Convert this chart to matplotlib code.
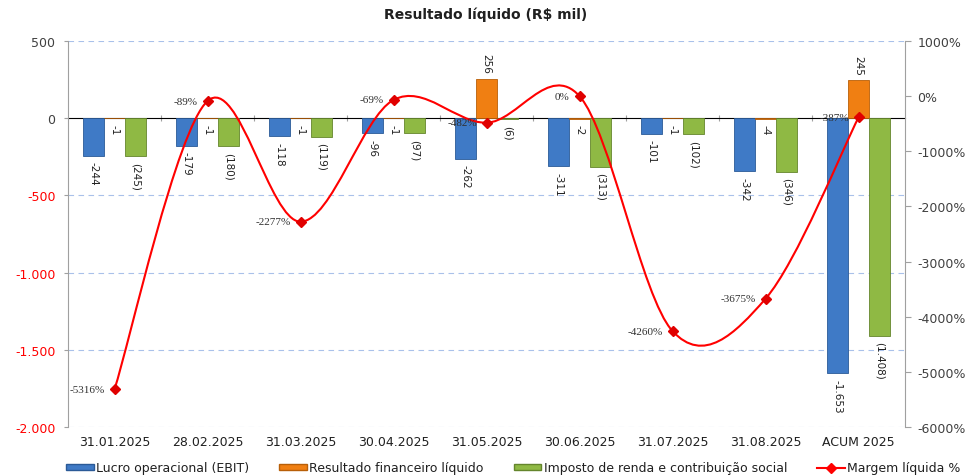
import numpy as np
import matplotlib
matplotlib.use("Agg")
import matplotlib.pyplot as plt
from matplotlib.path import Path
from matplotlib.patches import PathPatch, Patch
from matplotlib.lines import Line2D

# data (R$ mil)
categories = ["31.01.2025", "28.02.2025", "31.03.2025", "30.04.2025", "31.05.2025",
              "30.06.2025", "31.07.2025", "31.08.2025", "ACUM 2025"]
ebit = [-244, -179, -118, -96, -262, -311, -101, -342, -1653]
financeiro = [-1, -1, -1, -1, 256, -2, -1, -4, 245]
imposto = [-245, -180, -119, -97, -6, -313, -102, -346, -1408]
margem = [-5316, -89, -2277, -69, -482, 0, -4260, -3675, -387]

left_ticks = [500, 0, -500, -1000, -1500, -2000]
left_labels = ["500", "0", "-500", "-1.000", "-1.500", "-2.000"]
right_ticks = [1000, 0, -1000, -2000, -3000, -4000, -5000, -6000]
right_labels = ["1000%", "0%", "-1000%", "-2000%", "-3000%", "-4000%", "-5000%", "-6000%"]

YMIN, YMAX = -2000, 500
Y2MIN, Y2MAX = -6000, 1000

BLUE, BLUE_E = "#3F7AC6", "#2B5A97"
ORANGE, ORANGE_E = "#F07F12", "#B85F08"
GREEN, GREEN_E = "#8FB944", "#64852C"
RED = "#FF0000"
GRAY = "#404040"


def smooth_path(xs, ys):
    """Excel-like smoothed line: Catmull-Rom segments as cubic Beziers."""
    pts = np.column_stack([xs, ys]).astype(float)
    n = len(pts)
    verts = [pts[0]]
    codes = [Path.MOVETO]
    for i in range(n - 1):
        p0 = pts[i - 1] if i > 0 else pts[i]
        p1, p2 = pts[i], pts[i + 1]
        p3 = pts[i + 2] if i + 2 < n else pts[i + 1]
        c1 = p1 + (p2 - p0) / 6.0
        c2 = p2 - (p3 - p1) / 6.0
        verts += [c1, c2, p2]
        codes += [Path.CURVE4] * 3
    return Path(verts, codes)


def label_bars(ax, bars, texts):
    for b, t in zip(bars, texts):
        h = b.get_height()
        x = b.get_x() + b.get_width() / 2
        off = 4 if h >= 0 else -4
        ax.annotate(t, (x, h), xytext=(0, off), textcoords="offset points",
                    ha="center", va="bottom" if h >= 0 else "top", rotation=-90,
                    fontsize=7.5, color="#202020",
                    family=["Liberation Sans Narrow", "DejaVu Sans"])


fig = plt.figure(figsize=(9.65, 4.77), dpi=100)
ax = fig.add_axes([68 / 965, 1 - 428 / 477, (905 - 68) / 965, (428 - 42) / 477])

x = np.arange(len(categories))
w = 0.225
b1 = ax.bar(x - w, ebit, w, color=BLUE, edgecolor=BLUE_E, linewidth=0.6, zorder=3)
b2 = ax.bar(x, financeiro, w, color=ORANGE, edgecolor=ORANGE_E, linewidth=0.6, zorder=3)
b3 = ax.bar(x + w, imposto, w, color=GREEN, edgecolor=GREEN_E, linewidth=0.6, zorder=3)

label_bars(ax, b1, [f"{v:,}".replace(",", ".") for v in ebit])
label_bars(ax, b2, [f"{v:,}".replace(",", ".") for v in financeiro])
label_bars(ax, b3, [f"({abs(v):,})".replace(",", ".") for v in imposto])

ax.set_xlim(-0.5, len(categories) - 0.5)
ax.set_ylim(YMIN, YMAX)
ax.set_yticks(left_ticks, left_labels)
for lab, v in zip(ax.get_yticklabels(), left_ticks):
    lab.set_color(RED if v < 0 else GRAY)
ax.tick_params(axis="y", length=3, color="#A0A0A0", labelsize=9, pad=6)
ax.set_xticks(x, categories)
ax.tick_params(axis="x", length=0, labelsize=9, labelcolor="#202020", pad=6)

for v in left_ticks:
    if v != 0:
        ax.axhline(v, color="#A9C1EA", linestyle=(0, (5, 4)), linewidth=0.8, zorder=1)
for s in ["top", "bottom", "right"]:
    ax.spines[s].set_visible(False)
ax.spines["left"].set_color("#A0A0A0")

# category axis on the zero line with ticks between groups
zero_frac = (0 - YMIN) / (YMAX - YMIN)
secax = ax.secondary_xaxis(zero_frac)
secax.set_xticks(x[:-1] + 0.5, labels=[])
secax.tick_params(length=4, direction="inout", color="#A0A0A0")
secax.spines["bottom"].set_color("#A0A0A0")
secax.spines["bottom"].set_zorder(4)

ax2 = ax.twinx()
ax2.set_ylim(Y2MIN, Y2MAX)
ax2.set_yticks(right_ticks, right_labels)
ax2.tick_params(axis="y", length=4, color="#A0A0A0", labelsize=9, labelcolor=GRAY, pad=5)
for s in ["top", "bottom", "left"]:
    ax2.spines[s].set_visible(False)
ax2.spines["right"].set_color("#A0A0A0")

ax2.add_patch(PathPatch(smooth_path(x, margem), fill=False, edgecolor=RED, linewidth=1.5, zorder=4))
ax2.plot(x, margem, linestyle="none", marker="D", markersize=5, color="#E00000", zorder=5)
for xi, m in zip(x, margem):
    ax2.annotate(f"{m}%", (xi, m), xytext=(-7, 0), textcoords="offset points",
                 ha="right", va="center", fontsize=8, color="#303030",
                 family=["Liberation Serif", "DejaVu Serif"], zorder=6)

fig.text(0.503, 1 - 15 / 477, "Resultado líquido (R$ mil)", ha="center", va="center",
         fontsize=10, fontweight="bold", color="#202020")

handles = [Patch(facecolor=BLUE, edgecolor=BLUE_E),
           Patch(facecolor=ORANGE, edgecolor=ORANGE_E),
           Patch(facecolor=GREEN, edgecolor=GREEN_E),
           Line2D([], [], color=RED, linewidth=1.5, marker="D", markersize=5)]
names = ["Lucro operacional (EBIT)", "Resultado financeiro líquido",
         "Imposto de renda e contribuição social", "Margem líquida %"]
fig.legend(handles, names, loc="center", bbox_to_anchor=(0.532, 1 - 469 / 477), ncol=4,
           frameon=False, fontsize=9, handlelength=2.2, handleheight=0.4,
           handletextpad=0.2, columnspacing=2.4, labelcolor="#202020")

fig.savefig("out.png", dpi=100)
